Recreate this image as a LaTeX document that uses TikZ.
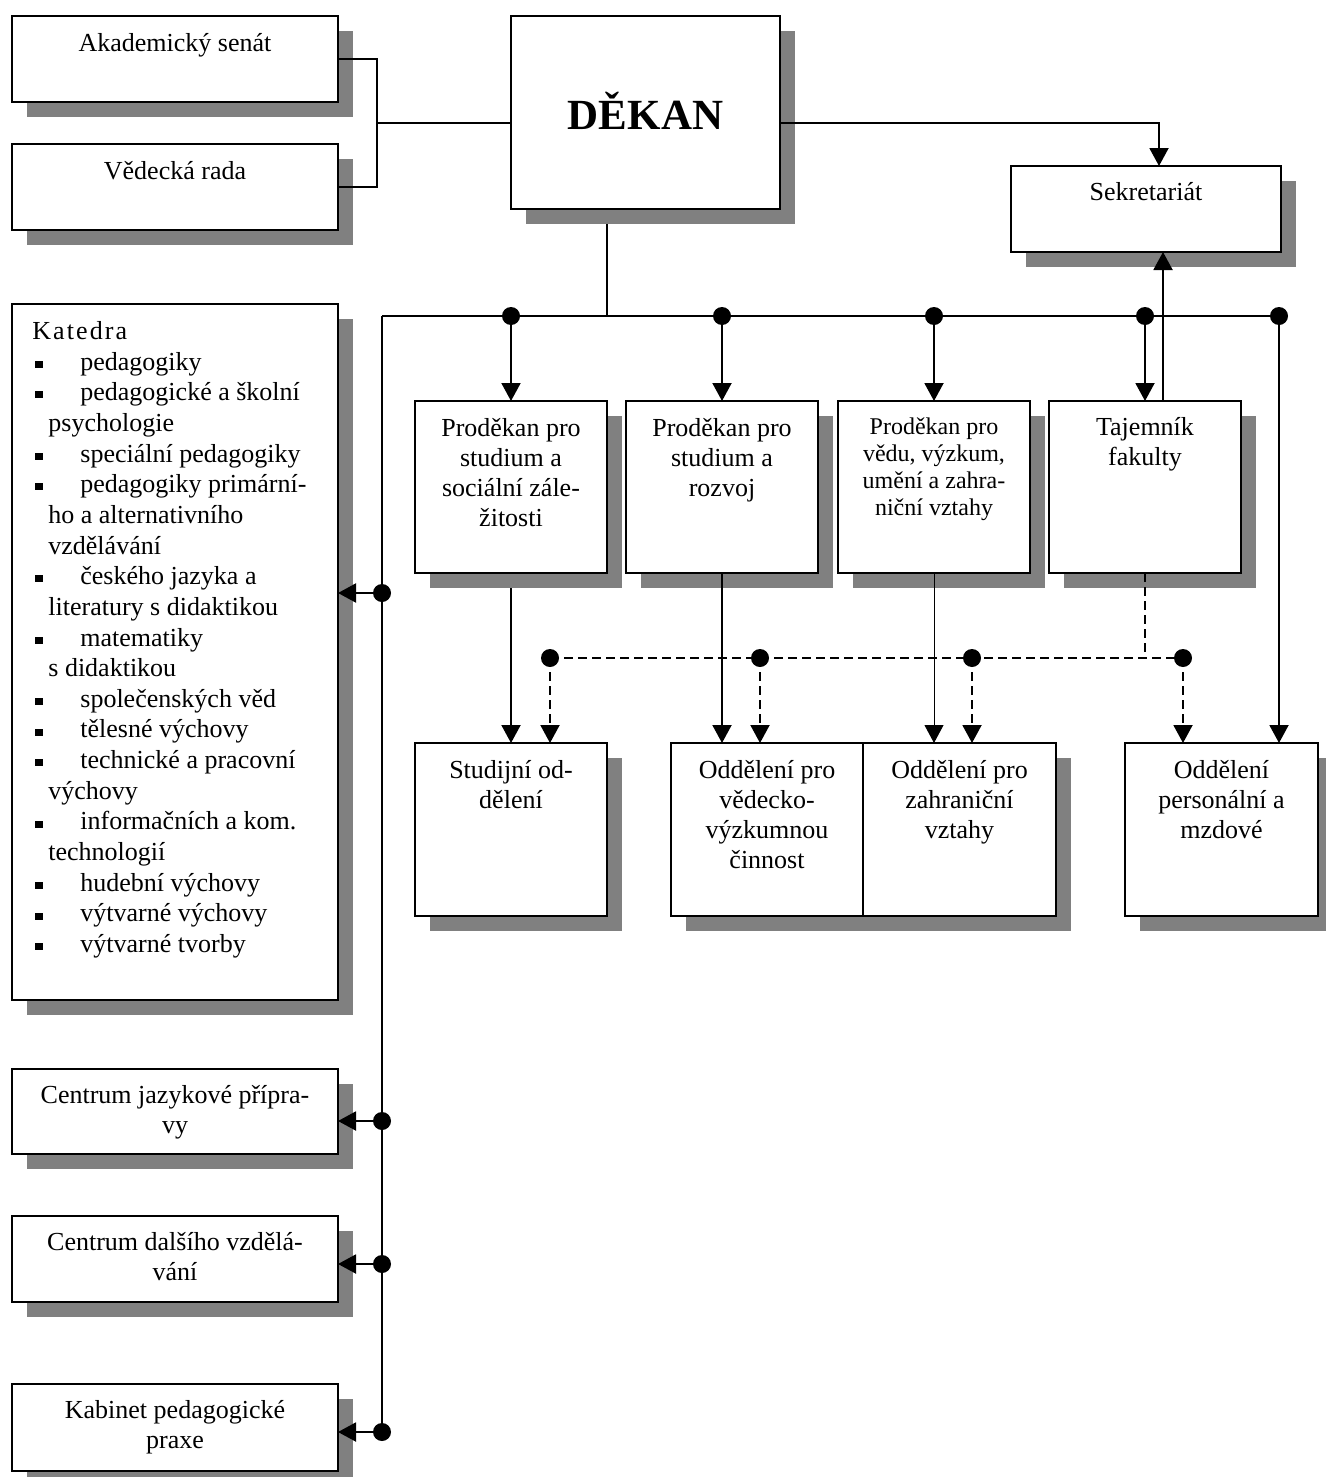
\documentclass[tikz,border=0pt]{standalone}
\usepackage{fontspec}
\setmainfont{Liberation Serif}
\usetikzlibrary{arrows.meta,shadows}
\pgfdeclarelayer{bg}
\pgfsetlayers{bg,main}
\definecolor{shadowgray}{HTML}{808080}
\newcommand\fl{\rule{0pt}{13pt}}
\newcommand\kbul{\makebox[24pt][l]{\hspace*{1.5pt}\rule[1.2pt]{4pt}{3.5pt}}}
\newcommand\kcont{\hspace*{8pt}}
\begin{document}
\begin{tikzpicture}[x=0.5pt,y=-0.5pt,
  box/.style={draw, line width=1pt, fill=white, anchor=north west, inner sep=0pt, outer sep=0pt,
    drop shadow={shadow xshift=7.5pt, shadow yshift=-7.5pt, fill=shadowgray, opacity=1}},
  lab/.style={anchor=north, align=center, inner sep=0pt, font=\fontsize{13}{15}\selectfont},
  smalllab/.style={anchor=north, align=center, inner sep=0pt, font=\fontsize{12}{13.5}\selectfont},
  conn/.style={line width=1pt},
  arr/.style={line width=1pt, -{Triangle[length=9pt,width=9.5pt]}},
  dline/.style={line width=1pt, dash pattern=on 4.5pt off 2.5pt},
  darr/.style={dline, -{Triangle[length=9pt,width=9.5pt]}}]
\useasboundingbox (0,0) rectangle (1326,1477);

% boxes
\node[box, minimum width=163pt, minimum height=43pt] (senat) at (12,16) {};
\node[box, minimum width=163pt, minimum height=43pt] (rada) at (12,144) {};
\node[box, minimum width=134.5pt, minimum height=96.5pt] (dekan) at (511,16) {};
\node[box, minimum width=135pt, minimum height=43pt] (sekr) at (1011,166) {};
\node[box, minimum width=163pt, minimum height=348pt] (katedra) at (12,304) {};
\node[box, minimum width=96pt, minimum height=86pt] (pd1) at (415,401) {};
\node[box, minimum width=96pt, minimum height=86pt] (pd2) at (626,401) {};
\node[box, minimum width=96pt, minimum height=86pt] (pd3) at (838,401) {};
\node[box, minimum width=96pt, minimum height=86pt] (taj) at (1049,401) {};
\node[box, minimum width=96pt, minimum height=86.5pt] (stud) at (415,743) {};
\node[box, minimum width=96pt, minimum height=86.5pt] (vv) at (671,743) {};
\node[box, minimum width=96.5pt, minimum height=86.5pt] (zahr) at (863,743) {};
\node[box, minimum width=96.5pt, minimum height=86.5pt] (pers) at (1125,743) {};
\node[box, minimum width=163pt, minimum height=42.5pt] (cjp) at (12,1069) {};
\node[box, minimum width=163pt, minimum height=43pt] (cdv) at (12,1216) {};
\node[box, minimum width=163pt, minimum height=43.5pt] (kab) at (12,1384) {};

% texts
\node[lab] (senatT) at ([yshift=-4.5pt]senat.north) {\fl Akademický senát};
\node[lab] (radaT) at ([yshift=-4.5pt]rada.north) {\fl Vědecká rada};
\node[anchor=base, inner sep=0pt, font=\bfseries\fontsize{21.5}{24}\selectfont] (dekanT) at ([yshift=-8.75pt]dekan.center) {DĚKAN};
\node[lab] (sekrT) at ([yshift=-4pt]sekr.north) {\fl Sekretariát};
\node[anchor=north west, align=left, inner sep=0pt, font=\fontsize{13}{15.33}\selectfont] (katT) at ([xshift=10pt,yshift=-4.5pt]katedra.north west) {%
\fl{\addfontfeature{LetterSpace=8}Katedra}\\
\kbul pedagogiky\\
\kbul pedagogické a školní\\
\kcont psychologie\\
\kbul speciální pedagogiky\\
\kbul pedagogiky primární-\\
\kcont ho a alternativního\\
\kcont vzdělávání\\
\kbul českého jazyka a\\
\kcont literatury s didaktikou\\
\kbul matematiky\\
\kcont s didaktikou\\
\kbul společenských věd\\
\kbul tělesné výchovy\\
\kbul technické a pracovní\\
\kcont výchovy\\
\kbul informačních a kom.\\
\kcont technologií\\
\kbul hudební výchovy\\
\kbul výtvarné výchovy\\
\kbul výtvarné tvorby};
\node[lab] (pd1T) at ([yshift=-4.5pt]pd1.north) {\fl Proděkan pro\\studium a\\sociální zále-\\žitosti};
\node[lab] (pd2T) at ([yshift=-4.5pt]pd2.north) {\fl Proděkan pro\\studium a\\rozvoj};
\node[smalllab] (pd3T) at ([yshift=-3.5pt]pd3.north) {\fl Proděkan pro\\vědu, výzkum,\\umění a zahra-\\niční vztahy};
\node[lab] (tajT) at ([yshift=-4pt]taj.north) {\fl Tajemník\\fakulty};
\node[lab] (studT) at ([yshift=-4.5pt]stud.north) {\fl Studijní od-\\dělení};
\node[lab] (vvT) at ([yshift=-4.5pt]vv.north) {\fl Oddělení pro\\vědecko-\\výzkumnou\\činnost};
\node[lab] (zahrT) at ([yshift=-4.5pt]zahr.north) {\fl Oddělení pro\\zahraniční\\vztahy};
\node[lab] (persT) at ([yshift=-4.5pt]pers.north) {\fl Oddělení\\personální a\\mzdové};
\node[lab] (cjpT) at ([yshift=-4pt]cjp.north) {\fl Centrum jazykové přípra-\\vy};
\node[lab] (cdvT) at ([yshift=-4pt]cdv.north) {\fl Centrum dalšího vzdělá-\\vání};
\node[lab] (kabT) at ([yshift=-4pt]kab.north) {\fl Kabinet pedagogické\\praxe};

% coordinates
\coordinate (brk) at (377,123);
\coordinate (sk) at (1159,123);
\coordinate (su) at (1163,0);
\coordinate (dk) at (607,316);
\coordinate (busL) at (382,316);
\coordinate (busR) at (1279,316);
\coordinate (busB) at (382,1432);
\coordinate (t1) at (pd1.north |- busL);
\coordinate (t2) at (pd2.north |- busL);
\coordinate (t3) at (pd3.north |- busL);
\coordinate (t4) at (taj.north |- busL);
\coordinate (e1) at (550,658);
\coordinate (e2) at (760,658);
\coordinate (e3) at (972,658);
\coordinate (e4) at (1183,658);
\coordinate (k1) at (382,593);
\coordinate (k2) at (382,1121);
\coordinate (k3) at (382,1264);
\coordinate (k4) at (382,1432);

% connectors
\begin{pgfonlayer}{bg}
\draw[conn] (dekan.south -| dk) -- (dk);
\draw[arr] (pd1.south) -- (stud.north);
\end{pgfonlayer}
\draw[conn] (senat.east) -| (brk) |- (rada.east);
\draw[conn] (brk) -- (brk -| dekan.west);
\draw[arr] (dekan.east |- sk) -| (sekr.north -| sk);
\draw[arr] (taj.north -| su) -- (sekr.south -| su);
\draw[conn] (busL) -- (busR);
\draw[conn] (busL) -- (busB);
\draw[arr] (t1) -- (pd1.north);
\draw[arr] (t2) -- (pd2.north);
\draw[arr] (t3) -- (pd3.north);
\draw[arr] (t4) -- (taj.north);
\draw[arr] (busR) -- (pers.north -| busR);
\draw[arr] (pd2.south) -- (vv.north -| pd2.south);
\draw[arr, line width=0.5pt] (pd3.south) -- (zahr.north -| pd3.south);
\draw[dline] (e1) -- (e4);
\draw[dline] (taj.south) -- (taj.south |- e4);
\draw[darr] (e1) -- (stud.north -| e1);
\draw[darr] (e2) -- (vv.north -| e2);
\draw[darr] (e3) -- (zahr.north -| e3);
\draw[darr] (e4) -- (pers.north -| e4);
\draw[arr] (k1) -- (k1 -| katedra.east);
\draw[arr] (k2) -- (k2 -| cjp.east);
\draw[arr] (k3) -- (k3 -| cdv.east);
\draw[arr] (k4) -- (k4 -| kab.east);

% dots
\foreach \p in {t1,t2,t3,t4,busR,e1,e2,e3,e4,k1,k2,k3,k4}
  \fill (\p) circle (4.5pt);
\end{tikzpicture}
\end{document}
